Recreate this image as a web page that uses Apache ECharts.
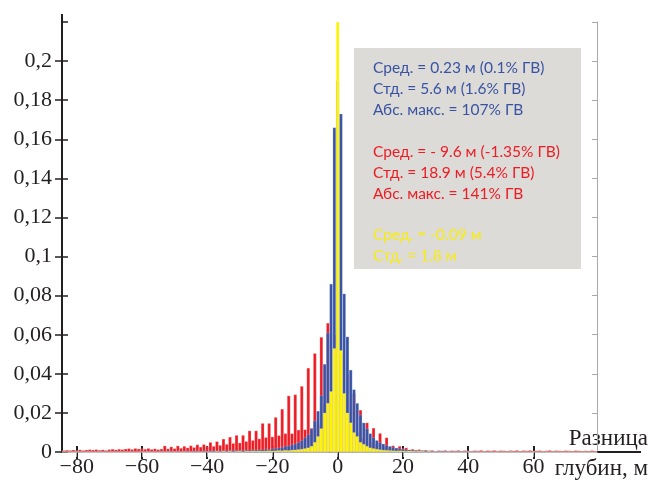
<!DOCTYPE html>
<html><head><meta charset="utf-8">
<script src="https://cdn.jsdelivr.net/npm/echarts@6/dist/echarts.min.js"></script>
<style>html,body{margin:0;padding:0;background:#fff}#c{width:651px;height:482px}</style>
</head><body><div id="c"></div>
<script>
// Bins: 1 m wide, centres from -84 to 79
const binStart = -84, binEnd = 79;
const xTickLabels = ['-80','-60','-40','-20','0','20','40','60'];
const yTickLabels = ['0','0,02','0,04','0,06','0,08','0,1','0,12','0,14','0,16','0,18','0,2'];

// Red series (-84 .. 79)
const redValues = [
0.0008,0.0010,0.0009,0.0011,0.0008,0.0012,0.0009,0.0011,0.0013,0.0011,
0.0013,0.0010,0.0012,0.0009,0.0013,0.0015,0.0012,0.0015,0.0013,0.0016,
0.0018,0.0014,0.0019,0.0016,0.0018,0.0015,0.0019,0.0014,0.0017,0.0013,
0.0016,0.0032,0.0017,0.0027,0.0018,0.0032,0.0020,0.0030,0.0022,0.0033,
0.0024,0.0038,0.0026,0.0039,0.0028,0.0050,0.0030,0.0054,0.0035,0.0067,
0.0040,0.0077,0.0045,0.0086,0.0047,0.0086,0.0055,0.0109,0.0060,0.0109,
0.0068,0.0147,0.0075,0.0147,0.0078,0.0178,0.0085,0.0220,0.0095,0.0288,
0.0095,0.0294,0.0113,0.0337,0.0115,0.0430,0.0122,0.0505,0.0140,0.0588,
0.0250,0.0660,0.0300,0.0600,0.0300,0.0500,0.0200,0.0400,0.0150,0.0300,
0.0100,0.0215,0.0070,0.0150,0.0050,0.0123,0.0040,0.0096,0.0030,0.0074,
0.0025,0.0033,0.0020,0.0030,0.0018,0.0022,0.0012,0.0015,0.0010,0.0013,
0.0008,0.0010,0.0007,0.0009,0.0006,0.0008,0.0007,0.0009,0.0006,0.0008,
0.0007,0.0009,0.0006,0.0008,0.0007,0.0006,0.0008,0.0007,0.0009,0.0006,
0.0008,0.0007,0.0009,0.0006,0.0008,0.0007,0.0006,0.0008,0.0007,0.0009,
0.0006,0.0008,0.0007,0.0009,0.0006,0.0007,0.0008,0.0006,0.0007,0.0009,
0.0006,0.0008,0.0007,0.0006,0.0008,0.0007,0.0006,0.0008,0.0007,0.0006,
0.0007,0.0006,0.0008,0.0005
];

// Blue series (-84 .. 79)
const blueValues = [
0,0,0.0003,0,0,0.0004,0,0,0.0003,0,
0,0.0004,0,0,0.0003,0,0.0004,0,0,0.0003,
0,0.0004,0,0.0003,0,0,0.0005,0,0.0004,0,
0.0005,0,0.0004,0.0006,0,0.0005,0,0.0004,0.0006,0,
0.0005,0.0006,0,0.0007,0.0005,0.0006,0.0008,0.0006,0.0007,0.0008,
0.0007,0.0008,0.0009,0.0008,0.0009,0.0008,0.0010,0.0009,0.0012,0.0011,
0.0013,0.0012,0.0015,0.0014,0.0017,0.0020,0.0022,0.0025,0.0030,0.0033,
0.0038,0.0042,0.0050,0.0060,0.0075,0.0090,0.0120,0.0160,0.0210,0.0290,
0.0450,0.0610,0.0860,0.1660,0.1900,0.1730,0.0810,0.0590,0.0420,0.0320,
0.0250,0.0190,0.0150,0.0120,0.0095,0.0075,0.0060,0.0050,0.0042,0.0035,
0.0030,0.0025,0.0021,0.0018,0.0015,0.0013,0.0011,0.0010,0.0009,0.0008,
0.0008,0.0007,0.0007,0.0006,0.0006,0.0005,0.0006,0.0005,0.0004,0.0005,
0.0004,0.0005,0.0004,0.0003,0.0004,0.0003,0.0004,0.0003,0,0.0003,
0,0.0003,0,0,0.0003,0,0,0.0003,0,0,
0.0003,0,0,0.0003,0,0,0,0.0003,0,0,
0,0.0003,0,0,0,0.0003,0,0,0,0,
0,0,0,0
];

// Yellow series (-84 .. 79); the 0 bin runs off the top of the plot
const yellowValues = [
0,0,0,0,0,0,0,0,0,0,
0,0,0,0,0,0,0,0,0,0,
0,0,0,0,0,0,0,0,0,0,
0,0,0,0,0,0,0,0,0,0,
0,0,0,0,0,0,0,0.0004,0,0.0005,
0,0.0005,0,0.0004,0.0005,0,0.0005,0.0004,0.0006,0.0005,
0.0006,0.0005,0.0006,0.0007,0.0006,0.0007,0.0008,0.0007,0.0009,0.0008,
0.0010,0.0011,0.0013,0.0015,0.0018,0.0022,0.0030,0.0050,0.0080,0.0120,
0.0200,0.0250,0.0310,0.0530,0.3000,0.0520,0.0300,0.0200,0.0150,0.0100,
0.0080,0.0050,0.0040,0.0030,0.0022,0.0018,0.0015,0.0012,0.0010,0.0009,
0.0008,0.0007,0.0006,0.0007,0.0006,0.0005,0.0006,0.0005,0.0004,0.0005,
0.0004,0,0.0004,0,0.0003,0,0,0,0,0,
0,0,0,0,0,0,0,0,0,0,
0,0,0,0,0,0,0,0,0,0,
0,0,0,0,0,0,0,0,0,0,
0,0,0,0,0,0,0,0,0,0,
0,0,0,0
];

const statsBlue = ['Сред. = 0.23 м (0.1% ГВ)', 'Стд. = 5.6 м (1.6% ГВ)', 'Абс. макс. = 107% ГВ'];
const statsRed = ['Сред. = - 9.6 м (-1.35% ГВ)', 'Стд. = 18.9 м (5.4% ГВ)', 'Абс. макс. = 141% ГВ'];
const statsYellow = ['Сред. = -0.09 м', 'Стд. = 1.8 м'];
const axisNameLines = ['Разница', 'глубин, м'];

const categories = [];
for (let b = binStart; b <= binEnd; b++) categories.push(String(b));

const BLACK = '#231f20', GRAY = '#a7a9ac';
const C_RED = '#ed1c24', C_BLUE = '#3953a4', C_YEL = '#fff200';
const serif = '"Liberation Serif", "DejaVu Serif", serif';
const G = {left: 62, top: 22, right: 54, bottom: 30};
const W = 651, H = 482;

const isTick = (idx, val) => xTickLabels.indexOf(String(val)) >= 0;
const fmtX = v => String(v).replace('-', '\u2212');
const fmtY = v => {
  const s = yTickLabels.find(t => Math.abs(parseFloat(t.replace(',', '.')) - v) < 1e-9);
  return s === undefined ? '' : s;
};

function xAx(extra) {
  return Object.assign({
    type: 'category', data: categories, boundaryGap: true, gridIndex: 0,
    axisLine: {show: false}, axisLabel: {show: false}, splitLine: {show: false},
    axisTick: {show: true, alignWithLabel: true, interval: isTick, length: 6, lineStyle: {color: BLACK, width: 2}}
  }, extra);
}
function yAx(extra) {
  return Object.assign({
    type: 'value', min: 0, max: 0.22, interval: 0.02, gridIndex: 0,
    axisLine: {show: false}, axisLabel: {show: false}, splitLine: {show: false},
    axisTick: {show: true, length: 6, lineStyle: {color: BLACK, width: 1.5}}
  }, extra);
}

const barBase = {
  type: 'bar', barGap: '-100%', barCategoryGap: '0%', animation: false,
  xAxisIndex: 0, yAxisIndex: 0
};

const option = {
  animation: false,
  grid: {left: G.left, top: G.top, right: G.right, bottom: G.bottom, containLabel: false},
  xAxis: [
    xAx({position: 'bottom',
      axisLine: {show: true, lineStyle: {color: BLACK, width: 2}},
      axisTick: {show: true, alignWithLabel: true, interval: isTick, length: 7, lineStyle: {color: BLACK, width: 2}},
      axisLabel: {show: true, interval: isTick, formatter: fmtX, color: BLACK, fontFamily: serif, fontSize: 22, margin: 4}}),
    xAx({position: 'bottom', axisTick: {show: true, inside: true, alignWithLabel: true, interval: isTick, length: 6, lineStyle: {color: BLACK, width: 2}}}),
    xAx({position: 'top', axisLine: {show: true, lineStyle: {color: GRAY, width: 1}},
      axisTick: {show: true, inside: true, alignWithLabel: true, interval: isTick, length: 5, lineStyle: {color: GRAY, width: 1}}})
  ],
  yAxis: [
    yAx({position: 'left',
      axisLine: {show: true, lineStyle: {color: BLACK, width: 2}},
      axisTick: {show: true, length: 7, lineStyle: {color: BLACK, width: 1.5}},
      axisLabel: {show: true, showMaxLabel: false, formatter: fmtY, color: BLACK, fontFamily: serif, fontSize: 22, margin: 10}}),
    yAx({position: 'left', axisTick: {show: true, inside: true, length: 6, lineStyle: {color: BLACK, width: 1.5}}}),
    yAx({position: 'right', axisLine: {show: true, lineStyle: {color: GRAY, width: 1}},
      axisTick: {show: true, inside: true, length: 5, lineStyle: {color: GRAY, width: 1}}})
  ],
  series: [
    Object.assign({}, barBase, {name: 'red', data: redValues, itemStyle: {color: C_RED, borderColor: 'rgba(255,210,210,0.6)', borderWidth: 0.4}}),
    Object.assign({}, barBase, {name: 'blue', data: blueValues, itemStyle: {color: C_BLUE, borderColor: 'rgba(200,210,240,0.6)', borderWidth: 0.4}}),
    Object.assign({}, barBase, {name: 'yellow', data: yellowValues, itemStyle: {color: C_YEL, borderColor: 'rgba(255,255,220,0.6)', borderWidth: 0.4}})
  ]
};

const chart = echarts.init(document.getElementById('c'), null, {renderer: 'canvas'});
chart.setOption(option);

// Decorations: stats box, axis name and axis-line extensions
const xr = W - G.right, yb = H - G.bottom;
const textFont = '15.5px Lato, "Noto Sans", sans-serif';
const gfx = [
  {type: 'line', shape: {x1: G.left, y1: G.top - 8, x2: G.left, y2: G.top}, style: {stroke: BLACK, lineWidth: 2}},
  {type: 'line', shape: {x1: xr, y1: yb, x2: W - 10, y2: yb}, style: {stroke: BLACK, lineWidth: 2}},
  {type: 'rect', shape: {x: 354, y: 48, width: 227, height: 221}, style: {fill: '#dddbd7'}, z: 10},
  {type: 'text', x: W - 3, y: 439, style: {text: axisNameLines[0], font: '23px ' + serif, fill: BLACK, align: 'right', verticalAlign: 'middle'}},
  {type: 'text', x: W - 3, y: 469, style: {text: axisNameLines[1], font: '23px ' + serif, fill: BLACK, align: 'right', verticalAlign: 'middle'}}
];
const lineYs = [68, 89, 110, 152, 173, 194, 235, 256];
const lines = [].concat(statsBlue.map(t => [t, C_BLUE]), statsRed.map(t => [t, C_RED]), statsYellow.map(t => [t, '#f7ec13']));
lines.forEach((l, i) => gfx.push({type: 'text', x: 373, y: lineYs[i], z: 11,
  style: {text: l[0], fill: l[1], font: textFont, align: 'left', verticalAlign: 'middle'}}));
chart.setOption({graphic: gfx});
</script></body></html>
